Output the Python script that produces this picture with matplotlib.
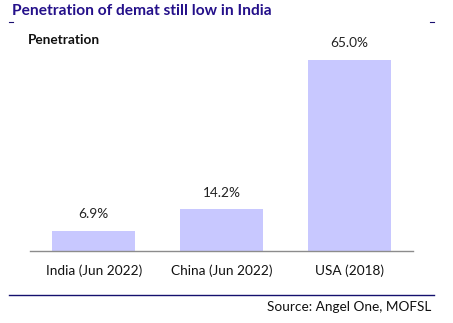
import matplotlib.pyplot as plt

categories = ['India (Jun 2022)', 'China (Jun 2022)', 'USA (2018)']
penetration = [6.9, 14.2, 65.0]

plt.rcParams['font.family'] = ['Lato', 'DejaVu Sans']

fig = plt.figure(figsize=(4.53, 3.23), dpi=100)
ax = fig.add_axes([30 / 453, 72 / 323, 383 / 453, 206 / 323])

x = range(len(categories))
ax.bar(x, penetration, width=0.65, color='#c8c8ff', zorder=2)
for xi, v in zip(x, penetration):
    ax.text(xi, v + 3.5, '{:.1f}%'.format(v), ha='center', va='bottom',
            fontsize=9.8, color='#222222')

ax.set_xlim(-0.5, 2.5)
ax.set_ylim(0, 70)
ax.set_xticks(list(x))
ax.set_xticklabels(categories, fontsize=9.8, color='#111111')
ax.tick_params(axis='x', length=0, pad=10)
ax.set_yticks([])
for side in ['top', 'right', 'left']:
    ax.spines[side].set_visible(False)
ax.spines['bottom'].set_color('#8c8c8c')
ax.spines['bottom'].set_linewidth(1.0)

# header, sub-heading and footer
fig.text(12 / 453, 1 - 11 / 323, 'Penetration of demat still low in India',
         fontsize=11.2, fontweight='bold', color='#24108a', va='center', ha='left')
fig.text(28 / 453, 1 - 40 / 323, 'Penetration', fontsize=9.8,
         fontweight='bold', color='#111111', va='center', ha='left')
fig.add_artist(plt.Line2D([9 / 453, 13 / 453], [1 - 22 / 323] * 2,
                          color='#1a1070', lw=0.8))
fig.add_artist(plt.Line2D([430 / 453, 434 / 453], [1 - 22 / 323] * 2,
                          color='#1a1070', lw=0.8))
fig.add_artist(plt.Line2D([9 / 453, 434 / 453], [1 - 295 / 323] * 2,
                          color='#14106e', lw=1.0))
fig.text(431 / 453, 1 - 307 / 323, 'Source: Angel One, MOFSL', fontsize=9.8,
         color='#111111', va='center', ha='right')

fig.savefig('out.png', dpi=100)
